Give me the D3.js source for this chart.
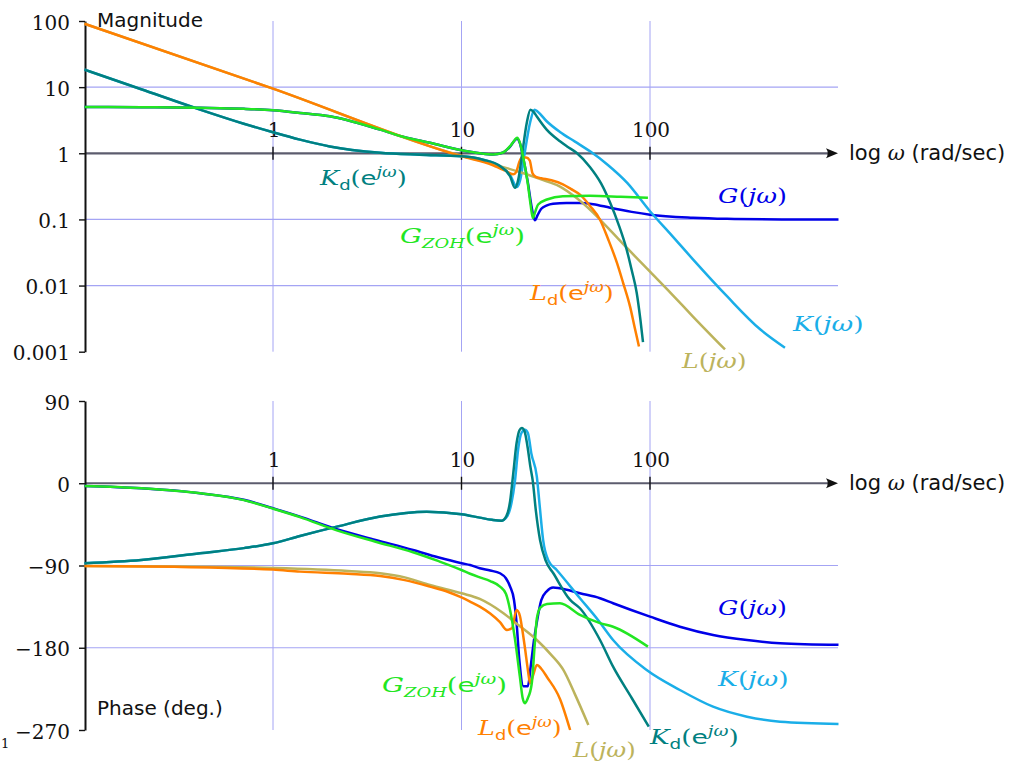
<!DOCTYPE html>
<html><head><meta charset="utf-8">
<script src="https://cdnjs.cloudflare.com/ajax/libs/d3/7.8.5/d3.min.js"></script>
<style>body{margin:0;background:#fff}</style>
</head><body><svg id="c" width="1011" height="764"></svg>
<script>
// ---------- data ----------
const xTickVals=[1,10,100];
const xTickLabels=["1","10","100"];
const magTicks=[100,10,1,0.1,0.01,0.001];
const magTickLabels=["100","10","1","0.1","0.01","0.001"];
const magGrid=[10,0.1,0.01];
const phaseTicks=[90,0,-90,-180,-270];
const phaseTickLabels=["90","0","\u221290","\u2212180","\u2212270"];
const phaseGrid=[-90,-180];

// [omega (rad/s), |.|]
const G_mag=[[0.1,5.03],[0.2,4.98],[0.41,4.86],[0.7,4.7],[1,4.47],[1.39,4.08],[2,3.63],[3.7,2.28],[5,1.75],[6.8,1.44],[10,1.11],[12.5,1.0],[14.7,0.96],[16.5,1.02],[18.1,1.26],[19.2,1.58],[19.7,1.68],[20.4,1.42],[21.2,0.88],[22.5,0.36],[23.5,0.16],[24.5,0.097],[25.3,0.115],[26.5,0.145],[28.4,0.163],[30.6,0.172],[36,0.177],[42.5,0.177],[50,0.17],[61.4,0.15],[80,0.13],[100,0.118],[169,0.106],[256,0.102],[500,0.1],[1000,0.0995]];
const Gzoh_mag=[[0.1,5.03],[0.2,4.98],[0.41,4.86],[0.7,4.7],[1,4.47],[1.39,4.08],[2,3.63],[3.7,2.28],[5,1.75],[6.8,1.44],[10,1.11],[12.5,1.0],[14.7,0.96],[16.5,1.02],[18.1,1.28],[19.2,1.6],[19.7,1.71],[20.4,1.45],[21.2,0.9],[22.5,0.34],[23.3,0.16],[23.9,0.105],[24.6,0.13],[25.5,0.168],[28.4,0.2],[34.5,0.225],[48,0.228],[70,0.22],[97.5,0.212]];
const K_mag=[[0.1,18.4],[0.2,9.3],[0.41,4.58],[0.7,2.8],[1,2.08],[1.39,1.61],[2,1.27],[3.7,1.02],[6,0.95],[10,0.9],[13,0.8],[16,0.64],[18.1,0.47],[19.7,0.31],[20.5,0.4],[21.5,0.9],[23.1,2.9],[24.4,4.57],[25.4,4.25],[28.3,3.05],[33.3,2.1],[40,1.5],[48.1,1.07],[60,0.66],[75.5,0.36],[100,0.133],[130,0.058],[169,0.0249],[256,0.0069],[384,0.00218],[520,0.00115]];
const Kd_mag=[[0.1,18.4],[0.2,9.3],[0.41,4.58],[0.7,2.8],[1,2.08],[1.39,1.61],[2,1.27],[3.7,1.02],[6,0.95],[10,0.9],[13,0.8],[16,0.64],[18.1,0.45],[19.2,0.3],[20,0.4],[20.9,0.9],[22.2,2.9],[23.2,4.57],[24.2,4.2],[25.1,3.6],[28.3,2.28],[33.3,1.52],[36.3,1.27],[40.9,1.01],[48,0.62],[55,0.35],[61.4,0.18],[68,0.085],[75.2,0.035],[80,0.017],[85,0.0078],[89,0.003],[91.8,0.0014]];
const L_mag=[[0.1,91],[1,9.5],[10,0.92],[12.5,0.78],[16,0.64],[21.3,0.5],[28.3,0.377],[33.3,0.314],[40,0.22],[49.9,0.127],[60,0.074],[75.5,0.037],[100,0.0162],[130,0.0075],[169,0.0034],[250,0.00108]];
const Ld_mag=[[0.1,91],[1,9.5],[10,0.9],[14.7,0.66],[17,0.55],[18.8,0.48],[19.5,0.52],[20.2,0.72],[20.9,0.86],[22,0.86],[23,0.78],[23.8,0.5],[24.8,0.44],[26.5,0.42],[30,0.39],[34.5,0.34],[38,0.29],[42.5,0.237],[48.1,0.16],[54.3,0.099],[60,0.05],[66.8,0.022],[72,0.011],[78.4,0.0048],[83,0.0023],[87.4,0.0012]];

// [omega (rad/s), phase (deg)]
const G_phase=[[0.1,-3],[0.2,-5.5],[0.41,-10.9],[0.7,-18],[1,-27.4],[1.39,-36.5],[2.18,-50.3],[3.5,-62],[5.53,-73],[7.5,-81],[10,-87.5],[11.1,-89.5],[12.5,-93],[14.2,-95.5],[16,-98.5],[17.2,-104],[18.1,-113],[19,-128],[19.6,-153],[20.3,-195],[21.3,-222],[22.5,-222],[23.3,-200],[24.3,-170],[25.1,-152],[26.5,-128],[28.4,-118],[30.6,-114],[33.3,-115],[42.5,-120.4],[54.3,-125.8],[63.7,-131.3],[100,-146],[144,-157],[216,-166],[327,-171.5],[490,-175],[1000,-176.8]];
const Gzoh_phase=[[0.1,-3],[0.2,-5.5],[0.41,-11],[0.7,-18.5],[1,-27.8],[1.39,-37],[2.18,-51.5],[3.5,-64],[5.53,-75.5],[7.5,-85],[10,-94.9],[11.1,-99],[12.5,-103],[14.2,-107],[16,-113],[17.2,-121],[18.1,-138.6],[19.2,-170],[20.4,-211.6],[21.1,-235],[21.7,-240.7],[22.4,-236],[23.6,-218.8],[24.4,-180],[25.1,-148],[26.2,-136],[28.4,-132],[33.3,-131.3],[42.5,-144],[54.3,-153],[63.7,-157],[97.5,-178.8]];
const K_phase=[[0.1,-87.5],[0.2,-84],[0.41,-76.6],[0.7,-71],[1,-65.7],[1.39,-57.7],[2.18,-47.5],[3.7,-36.5],[6.54,-31.1],[10,-33.9],[12.5,-37.6],[14.5,-40],[16.3,-41],[17.5,-36],[18.4,-22],[19.2,2],[20,38],[20.8,55],[21.7,58.5],[22.5,55],[23.5,32],[25.1,7.2],[26,-25],[27.1,-62],[29,-85],[32,-94.9],[42.5,-125.8],[53,-149.6],[63.7,-171.5],[96,-204.3],[144,-226.2],[216,-244.5],[327,-255.4],[490,-260.9],[1000,-263.4]];
const Kd_phase=[[0.1,-87.5],[0.2,-84],[0.41,-76.6],[0.7,-71],[1,-65.7],[1.39,-57.7],[2.18,-47.5],[3.7,-36.5],[6.54,-31.1],[10,-33.9],[12.5,-37.6],[14.5,-40],[16.3,-41],[17.3,-36],[18.1,-20],[18.8,10],[19.6,44],[20.3,58],[20.9,60.5],[21.6,57],[22.4,40],[23.2,18],[23.9,2],[24.8,-30],[26.1,-62],[28,-85],[30.7,-98.5],[37.7,-127.7],[42.5,-136.8],[54.3,-171.5],[63.7,-200.7],[80,-235],[98.5,-266.3]];
const L_phase=[[0.1,-90.5],[0.3,-91],[1,-92.7],[2.5,-96],[3.7,-98.5],[5,-103],[6.8,-111.3],[10,-120.4],[12.5,-126.5],[16.7,-142.2],[20,-155],[25.1,-171.5],[30,-188],[34.7,-204.3],[40,-231],[47.1,-264.5]];
const Ld_phase=[[0.1,-90.5],[0.3,-91.5],[1,-94.5],[1.39,-96.7],[2.5,-99],[3.7,-101.4],[5,-106],[6.8,-113.1],[8.5,-119],[10,-125],[11.1,-129.5],[12.5,-135],[14.2,-142.5],[16,-152],[17.4,-160.5],[18.5,-158.7],[19.6,-138.6],[20.4,-145],[20.9,-157],[21.7,-180],[22.5,-204.3],[23.1,-218.8],[24,-210],[25.1,-199],[26.5,-203],[28.4,-212],[33.3,-236],[37.7,-270]];

// ---------- drawing ----------
const svg=d3.select('#c');
const x=d3.scaleLog().domain([0.1,1000]).range([84.5,838.5]);
const yM=d3.scaleLog().domain([0.001,100]).range([351.7,21]);
const yP=d3.scaleLinear().domain([-270,90]).range([730,401]);

const C={G:'#0000e8',K:'#1aaee8',L:'#bcb35c',Ld:'#ff8000',Kd:'#008080',Gzoh:'#22e622'};
const gridColor='#a4a4f4';
const SERIF='DejaVu Serif', SANS='DejaVu Sans';

function panel(yScale, ticks, tickLabels, grid, axisVal){
  const [yB,yT]=yScale.range();
  const g=svg.append('g');
  g.selectAll('.vg').data(xTickVals).join('line')
    .attr('x1',d=>x(d)).attr('x2',d=>x(d)).attr('y1',yT).attr('y2',yB)
    .attr('stroke',gridColor).attr('stroke-width',1);
  g.selectAll('.hg').data(grid).join('line')
    .attr('x1',85).attr('x2',838).attr('y1',d=>yScale(d)).attr('y2',d=>yScale(d))
    .attr('stroke',gridColor).attr('stroke-width',1.2);
  const y0=yScale(axisVal);
  g.append('line').attr('x1',85).attr('x2',831).attr('y1',y0).attr('y2',y0)
    .attr('stroke','#5c5c6e').attr('stroke-width',2.2);
  g.append('path').attr('d',`M838,${y0} L826,${y0-5} Q829.5,${y0} 826,${y0+5} Z`).attr('fill','#111');
  g.selectAll('.xt').data(xTickVals).join('line')
    .attr('x1',d=>x(d)).attr('x2',d=>x(d)).attr('y1',y0-6.5).attr('y2',y0+6.5)
    .attr('stroke','#111').attr('stroke-width',1.4);
  g.selectAll('.xl').data(xTickVals).join('text')
    .attr('x',d=>x(d)+1).attr('y',y0-16.5).attr('text-anchor','middle')
    .attr('font-family',SERIF).attr('font-size',20).attr('fill','#111')
    .text((d,i)=>xTickLabels[i]);
  const lab=g.append('text').attr('x',849).attr('y',y0+7).attr('font-family',SANS).attr('font-size',21).attr('fill','#111');
  lab.append('tspan').text('log ');
  lab.append('tspan').attr('font-family',SERIF).attr('font-style','italic').text('\u03c9');
  lab.append('tspan').text(' (rad/sec)');
  const ax=d3.axisLeft(yScale).tickValues(ticks).tickFormat((d,i)=>tickLabels[i]).tickSize(6).tickSizeOuter(0).tickPadding(9);
  const ag=svg.append('g').attr('transform','translate(85,0)').call(ax);
  ag.select('.domain').attr('stroke','#111').attr('stroke-width',2);
  ag.selectAll('.tick line').attr('stroke','#111').attr('stroke-width',1.4);
  ag.selectAll('.tick text').attr('font-family',SERIF).attr('font-size',20).attr('fill','#111').attr('dy','0.4em');
  return g;
}

panel(yM, magTicks, magTickLabels, magGrid, 1);
panel(yP, phaseTicks, phaseTickLabels, phaseGrid, 0);

function drawLine(data, yScale, color){
  svg.append('path').datum(data).attr('fill','none').attr('stroke',color).attr('stroke-width',2.5)
    .attr('stroke-linejoin','round')
    .attr('d', d3.line().x(d=>x(d[0])).y(d=>yScale(d[1])).curve(d3.curveMonotoneX));
}
[[G_mag,C.G],[K_mag,C.K],[L_mag,C.L],[Ld_mag,C.Ld],[Kd_mag,C.Kd],[Gzoh_mag,C.Gzoh]].forEach(([d,c])=>drawLine(d,yM,c));
[[G_phase,C.G],[K_phase,C.K],[L_phase,C.L],[Ld_phase,C.Ld],[Kd_phase,C.Kd],[Gzoh_phase,C.Gzoh]].forEach(([d,c])=>drawLine(d,yP,c));

function mathLabel(px,py,color,parts,targetW){
  const t=svg.append('text').attr('fill',color).attr('font-size',20);
  let shift=0;
  parts.forEach(([s,kind])=>{
    const sp=t.append('tspan').text(s);
    let fam=SERIF, style='normal', size=20, target=0;
    if(kind==='mi'){style='italic';}
    else if(kind==='sf'){fam=SANS;}
    else if(kind==='subsf'){fam=SANS;size=14;target=5;}
    else if(kind==='submi'){style='italic';size=13;target=5;}
    else if(kind==='supmi'){style='italic';size=14;target=-8;}
    sp.attr('font-family',fam).attr('font-style',style).attr('font-size',size).attr('dy',target-shift);
    shift=target;
  });
  const w=t.node().getBBox().width;
  t.attr('transform',`translate(${px},${py}) scale(${(targetW/w).toFixed(3)},1)`);
}
const cont=(sym)=>[[sym,'mi'],['(','rm'],['j\u03c9','mi'],[')','rm']];
const disc=(sym,sub,subKind)=>[[sym,'mi'],[sub,subKind],['(','rm'],['e','sf'],['j\u03c9','supmi'],[')','rm']];

mathLabel(320,185,C.Kd,disc('K','d','subsf'),88);
mathLabel(400,243,C.Gzoh,disc('G','ZOH','submi'),125);
mathLabel(530,300,C.Ld,disc('L','d','subsf'),85);
mathLabel(718,203,C.G,cont('G'),69);
mathLabel(793,331,C.K,cont('K'),72);
mathLabel(682,368,C.L,cont('L'),66);

mathLabel(718,615,C.G,cont('G'),69);
mathLabel(718,686,C.K,cont('K'),72);
mathLabel(382,692,C.Gzoh,disc('G','ZOH','submi'),125);
mathLabel(478,735,C.Ld,disc('L','d','subsf'),85);
mathLabel(573,757,C.L,cont('L'),64);
mathLabel(650,744,C.Kd,disc('K','d','subsf'),90);

svg.append('text').attr('x',97).attr('y',27).attr('font-family',SANS).attr('font-size',20).attr('fill','#111').text('Magnitude');
svg.append('text').attr('x',97).attr('y',715).attr('font-family',SANS).attr('font-size',20).attr('fill','#111').text('Phase (deg.)');
svg.append('text').attr('x',1).attr('y',748).attr('font-family',SERIF).attr('font-size',13).attr('fill','#111').text('1');
</script></body></html>
